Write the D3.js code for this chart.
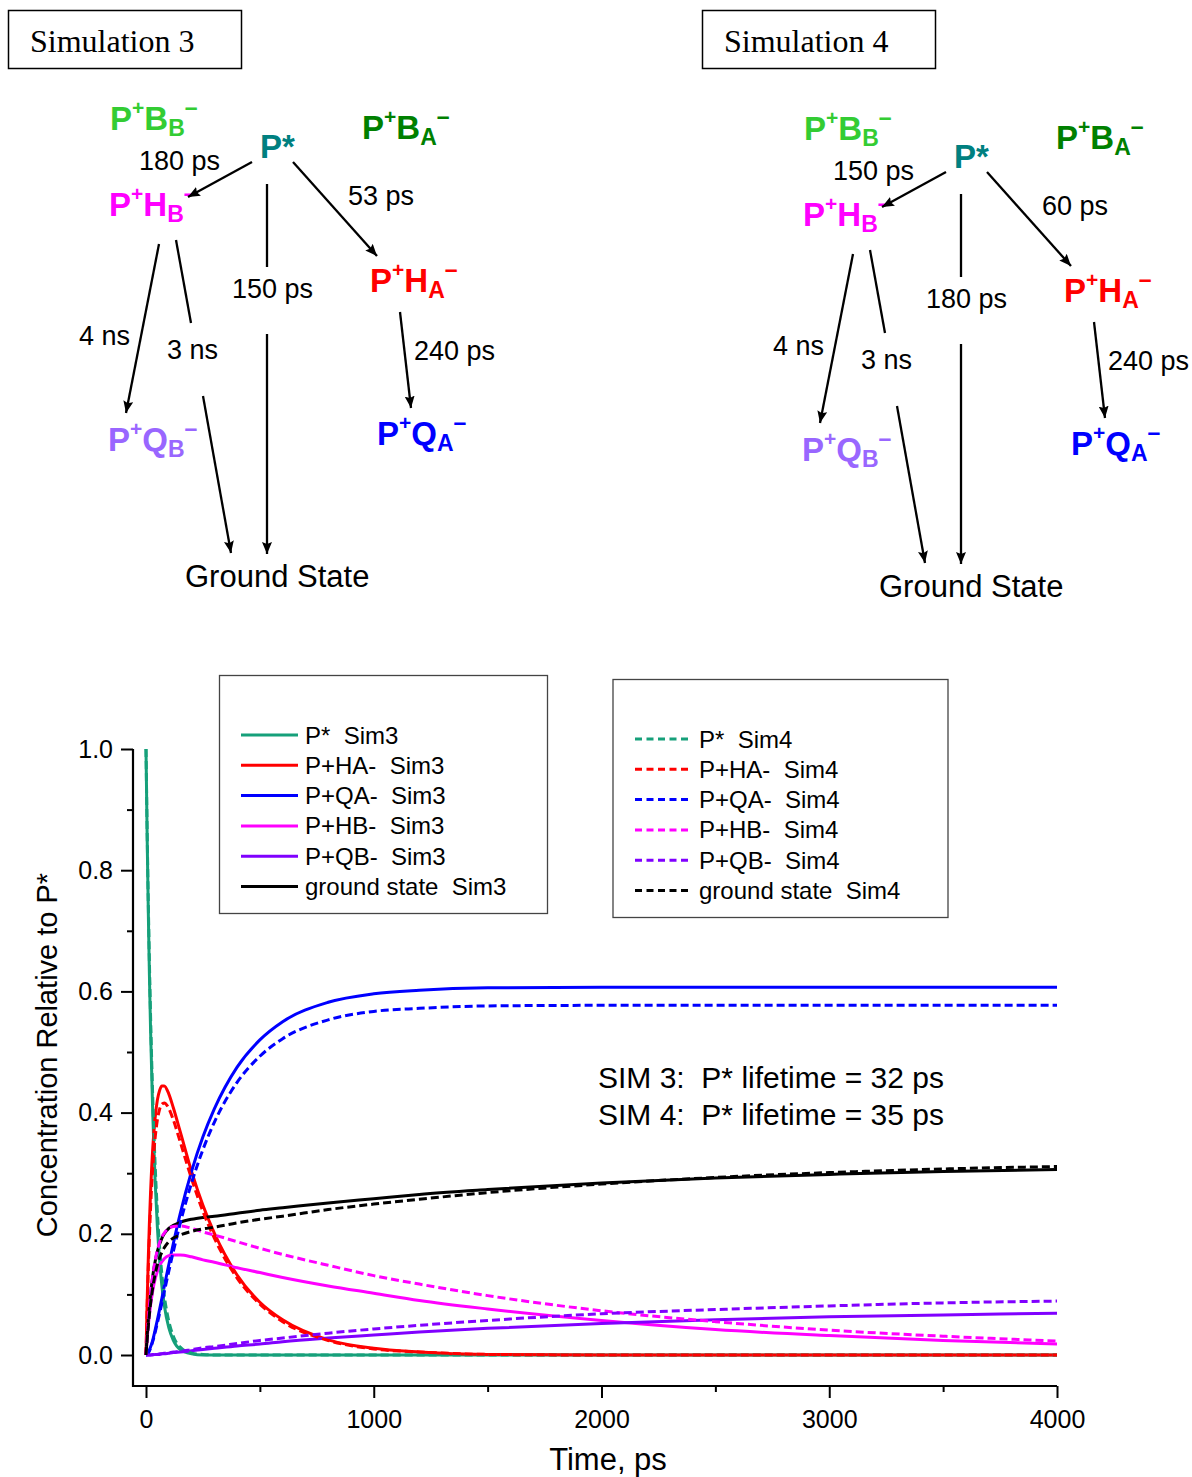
<!DOCTYPE html>
<html>
<head>
<meta charset="utf-8">
<script src="https://cdn.jsdelivr.net/npm/d3@7"></script>
<style>
  body { margin: 0; background: #fff; }
  text { white-space: pre; }
</style>
</head>
<body>
<svg id="fig" width="1192" height="1477"></svg>
<script>
// time axis samples (ps) and concentrations
const timePs = [0,5,10,15,20,30,40,50,60,70,80,100,120,150,200,250,300,400,500,600,800,1000,1200,1500,2000,2500,3000,3500,4000];

const pStar3 = [1,0.856,0.733,0.627,0.537,0.394,0.288,0.211,0.155,0.113,0.083,0.045,0.024,0.009,0.002,0,0,0,0,0,0,0,0,0,0,0,0,0,0];
const ha3    = [0,0.087,0.159,0.219,0.268,0.343,0.391,0.421,0.437,0.444,0.444,0.431,0.408,0.369,0.303,0.247,0.201,0.132,0.087,0.058,0.025,0.011,0.005,0.001,0,0,0,0,0];
const qa3    = [0,0.001,0.004,0.008,0.013,0.025,0.041,0.058,0.076,0.094,0.113,0.149,0.184,0.233,0.303,0.360,0.406,0.475,0.520,0.550,0.582,0.596,0.602,0.606,0.607,0.607,0.607,0.607,0.607];
const hb3    = [0,0.026,0.048,0.066,0.082,0.107,0.125,0.138,0.148,0.154,0.159,0.164,0.165,0.165,0.162,0.157,0.153,0.144,0.136,0.128,0.114,0.102,0.090,0.076,0.057,0.042,0.032,0.024,0.018];
const qb3    = [0,0,0,0,0,0,0.001,0.001,0.001,0.002,0.002,0.003,0.004,0.005,0.007,0.009,0.011,0.015,0.018,0.022,0.028,0.033,0.038,0.044,0.052,0.058,0.063,0.066,0.069];
const gs3    = [0,0.031,0.057,0.080,0.100,0.131,0.154,0.171,0.183,0.193,0.200,0.209,0.214,0.219,0.224,0.227,0.229,0.234,0.239,0.243,0.251,0.258,0.265,0.273,0.284,0.292,0.298,0.303,0.306];

const pStar4 = [1,0.866,0.749,0.648,0.561,0.420,0.315,0.236,0.177,0.132,0.099,0.056,0.031,0.013,0.003,0.001,0,0,0,0,0,0,0,0,0,0,0,0,0];
const ha4    = [0,0.077,0.142,0.196,0.242,0.312,0.358,0.388,0.406,0.414,0.416,0.407,0.388,0.352,0.291,0.237,0.193,0.127,0.084,0.055,0.024,0.010,0.005,0.001,0,0,0,0,0];
const qa4    = [0,0.001,0.003,0.007,0.011,0.023,0.037,0.053,0.069,0.086,0.104,0.138,0.171,0.217,0.284,0.339,0.384,0.450,0.493,0.522,0.553,0.567,0.572,0.576,0.577,0.577,0.577,0.577,0.577];
const hb4    = [0,0.031,0.058,0.081,0.101,0.132,0.156,0.173,0.186,0.195,0.201,0.209,0.212,0.213,0.209,0.203,0.198,0.187,0.176,0.166,0.148,0.131,0.117,0.098,0.073,0.055,0.041,0.031,0.023];
const qb4    = [0,0,0,0,0,0.001,0.001,0.001,0.002,0.002,0.003,0.004,0.005,0.006,0.009,0.012,0.014,0.019,0.024,0.028,0.036,0.043,0.049,0.057,0.068,0.075,0.081,0.086,0.089];
const gs4    = [0,0.026,0.048,0.068,0.085,0.112,0.133,0.149,0.161,0.170,0.177,0.187,0.193,0.198,0.204,0.208,0.211,0.218,0.224,0.229,0.240,0.249,0.257,0.268,0.282,0.293,0.301,0.307,0.311];

const speciesNames = ["P*", "P+HA-", "P+QA-", "P+HB-", "P+QB-", "ground state"];
const speciesColors = ["#16a07a", "#ff0000", "#0000ff", "#ff00ff", "#8000ff", "#000000"];

const xTicks = [0, 1000, 2000, 3000, 4000];
const xMinor = [500, 1500, 2500, 3500];
const yTicks = [0, 0.2, 0.4, 0.6, 0.8, 1.0];
const yMinor = [0.1, 0.3, 0.5, 0.7, 0.9];

// scheme labels
const rates3 = ["180 ps", "53 ps", "150 ps", "4 ns", "3 ns", "240 ps"];
const rates4 = ["150 ps", "60 ps", "180 ps", "4 ns", "3 ns", "240 ps"];
const lifetimes = ["SIM 3:  P* lifetime = 32 ps", "SIM 4:  P* lifetime = 35 ps"];

const SANS = "'Liberation Sans', Arial, sans-serif";
const SERIF = "'Liberation Serif', 'Times New Roman', serif";
const svg = d3.select("#fig");

svg.append("defs").append("marker")
    .attr("id", "arr").attr("viewBox", "0 0 12 10")
    .attr("refX", 12).attr("refY", 5)
    .attr("markerWidth", 12).attr("markerHeight", 10)
    .attr("markerUnits", "userSpaceOnUse").attr("orient", "auto")
  .append("path").attr("d", "M0,0 L12,5 L0,10 L2,5 z").attr("fill", "#000");

// 1. REACTION SCHEMES
function species(g, x, y, parts, color) {
    const t = g.append("text").attr("x", x).attr("y", y)
        .attr("fill", color).attr("font-family", SANS).attr("font-weight", "bold");
    let cur = 0;
    parts.forEach(p => {
        const off = p[1] === "sup" ? -15 : p[1] === "sub" ? 6 : p[1] === "min" ? -15 : 0;
        const size = p[1] === "sup" ? 21 : p[1] ? 23 : 33;
        t.append("tspan").attr("dy", off - cur).attr("font-size", size).text(p[0]);
        cur = off;
    });
}

function ion(a, b) {
    return [["P"], ["+", "sup"], [a], [b, "sub"], ["\u2013", "min"]];
}

function scheme(dx, dy, title, rates) {
    const g = svg.append("g").attr("transform", `translate(${dx},${dy})`);
    const box = svg.append("g").attr("transform", `translate(${dx},0)`);
    box.append("rect").attr("x", 8.5).attr("y", 10.5).attr("width", 233).attr("height", 58)
        .attr("fill", "none").attr("stroke", "#000").attr("stroke-width", 1.5);
    box.append("text").attr("x", 30).attr("y", 52).attr("font-family", SERIF)
        .attr("font-size", 32).text(title);

    species(g, 110, 130, ion("B", "B"), "#33cc33");
    species(g, 260, 158, [["P*"]], "#008080");
    species(g, 362, 139, ion("B", "A"), "#008000");
    species(g, 109, 216, ion("H", "B"), "#ff00ff");
    species(g, 370, 292, ion("H", "A"), "#ff0000");
    species(g, 108, 451, ion("Q", "B"), "#9966ff");
    species(g, 377, 445, ion("Q", "A"), "#0000ff");

    const rl = [[139, 170], [348, 205], [232, 298], [79, 345], [167, 359], [414, 360]];
    rates.forEach((r, i) => {
        g.append("text").attr("x", rl[i][0]).attr("y", rl[i][1]).attr("font-family", SANS)
            .attr("font-size", 27).text(r);
    });
    g.append("text").attr("x", 185).attr("y", 587).attr("font-family", SANS)
        .attr("font-size", 31).text("Ground State");

    const segs = [
        [252, 162, 188, 197, true], [293, 162, 377, 256, true],
        [267, 184, 267, 267, false], [267, 334, 267, 554, true],
        [159, 244, 126, 413, true], [176, 240, 191, 323, false],
        [203, 396, 231, 553, true], [400, 312, 411, 408, true]
    ];
    segs.forEach(s => {
        const l = g.append("line").attr("x1", s[0]).attr("y1", s[1]).attr("x2", s[2]).attr("y2", s[3])
            .attr("stroke", "#000").attr("stroke-width", 2.3);
        if (s[4]) l.attr("marker-end", "url(#arr)");
    });
}

scheme(0, 0, "Simulation 3", rates3);
scheme(694, 10, "Simulation 4", rates4);

// 2. KINETICS PLOT
const x = d3.scaleLinear().domain([0, 4000]).range([146, 1057]);
const y = d3.scaleLinear().domain([0, 1]).range([1355, 749]);
const axisY0 = 133, axisX0 = 1386;

function styleAxis(g) {
    g.select(".domain").remove();
    g.selectAll("line").attr("stroke", "#000").attr("stroke-width", 2);
    g.selectAll("text").attr("font-family", SANS).attr("font-size", 25).attr("fill", "#000");
}

svg.append("g").attr("transform", `translate(${axisY0},0)`)
    .call(d3.axisLeft(y).tickValues(yMinor).tickSize(6).tickFormat("")).call(styleAxis);
svg.append("g").attr("transform", `translate(${axisY0},0)`)
    .call(d3.axisLeft(y).tickValues(yTicks).tickSize(12).tickPadding(8).tickFormat(d3.format(".1f")))
    .call(styleAxis);
svg.append("g").attr("transform", `translate(0,${axisX0})`)
    .call(d3.axisBottom(x).tickValues(xMinor).tickSize(6).tickFormat("")).call(styleAxis);
svg.append("g").attr("transform", `translate(0,${axisX0})`)
    .call(d3.axisBottom(x).tickValues(xTicks).tickSize(12).tickPadding(12).tickFormat(d3.format("d")))
    .call(styleAxis);

svg.append("path")
    .attr("d", `M${axisY0},${y(1)} L${axisY0},${axisX0} L${x(4000)},${axisX0}`)
    .attr("fill", "none").attr("stroke", "#000").attr("stroke-width", 2.2);

svg.append("text").attr("transform", "translate(57,1055) rotate(-90)")
    .attr("text-anchor", "middle").attr("font-family", SANS).attr("font-size", 29)
    .text("Concentration Relative to P*");
svg.append("text").attr("x", 608).attr("y", 1470).attr("text-anchor", "middle")
    .attr("font-family", SANS).attr("font-size", 31).text("Time, ps");

const line = d3.line().x(d => x(d[0])).y(d => y(d[1])).curve(d3.curveMonotoneX);
const sim3 = [pStar3, ha3, qa3, hb3, qb3, gs3];
const sim4 = [pStar4, ha4, qa4, hb4, qb4, gs4];

function drawSeries(list, dashed) {
    list.forEach((vals, i) => {
        svg.append("path").datum(timePs.map((t, j) => [t, vals[j]]))
            .attr("d", line).attr("fill", "none")
            .attr("stroke", speciesColors[i]).attr("stroke-width", 3)
            .attr("stroke-dasharray", dashed ? "8,4" : null);
    });
}
drawSeries(sim3, false);
drawSeries(sim4, true);

// 3. LEGENDS
function legend(bx, by, bw, bh, lx, ly, tag, dashed) {
    svg.append("rect").attr("x", bx).attr("y", by).attr("width", bw).attr("height", bh)
        .attr("fill", "#fff").attr("stroke", "#444").attr("stroke-width", 1.3);
    speciesNames.forEach((n, i) => {
        const yy = ly + i * 30.3;
        svg.append("line").attr("x1", lx).attr("x2", lx + 57).attr("y1", yy).attr("y2", yy)
            .attr("stroke", speciesColors[i]).attr("stroke-width", 3)
            .attr("stroke-dasharray", dashed ? "7,4.5" : null);
        svg.append("text").attr("x", lx + 64).attr("y", yy + 8.5)
            .attr("font-family", SANS).attr("font-size", 24).text(n + "  " + tag);
    });
}
legend(219.5, 675.5, 328, 238, 241, 735, "Sim3", false);
legend(613, 679.5, 335, 238, 635, 739, "Sim4", true);

lifetimes.forEach((s, i) => {
    svg.append("text").attr("x", 598).attr("y", 1088 + i * 37)
        .attr("font-family", SANS).attr("font-size", 30).text(s);
});
</script>
</body>
</html>
